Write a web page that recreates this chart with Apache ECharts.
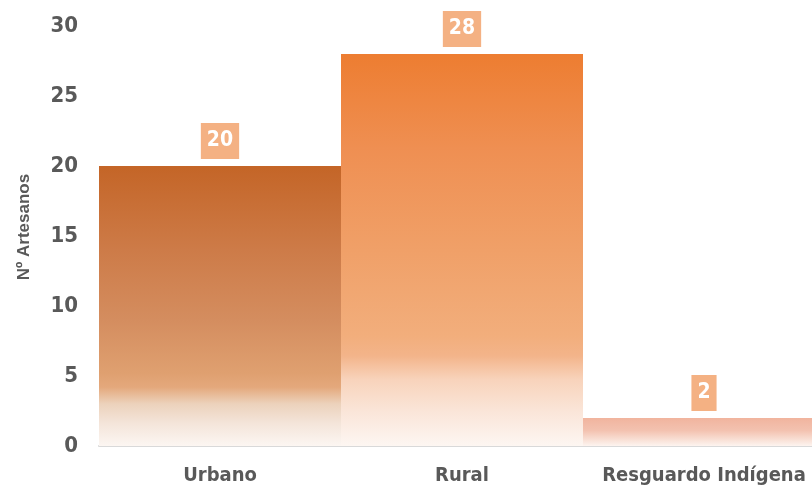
<!DOCTYPE html>
<html>
<head>
<meta charset="utf-8">
<script src="https://cdn.jsdelivr.net/npm/echarts@6/dist/echarts.min.js"></script>
<style>
html,body{margin:0;padding:0;background:#fff;}
#chart{width:812px;height:487px;}
</style>
</head>
<body>
<div id="chart"></div>
<script>
const categories = ["Urbano", "Rural", "Resguardo Indígena"];
const values = [20, 28, 2];
const yTicks = [0, 5, 10, 15, 20, 25, 30];
const axisTitle = "Nº Artesanos";

const gradientStops = [
  [[0, '#c46527'], [0.3, '#cd7b48'], [0.55, '#d48d5f'], [0.74, '#dfa070'], [0.79, '#e4a87c'], [0.85, '#ecd2bc'], [0.92, '#f4e5da'], [1, '#fcf6f2']],
  [[0, '#ed7d31'], [0.24, '#ef8f52'], [0.5, '#f0a068'], [0.72, '#f2ae7c'], [0.77, '#f3b48a'], [0.83, '#f8d3bb'], [0.91, '#fae5d8'], [1, '#fdf6f2']],
  [[0, '#f1b49e'], [0.45, '#f3c2b0'], [0.8, '#f9e2d8'], [1, '#fdf4f0']]
];

function grad(stops) {
  return new echarts.graphic.LinearGradient(0, 0, 0, 1,
    stops.map(s => ({ offset: s[0], color: s[1] })));
}

const narrow = '"Liberation Sans Narrow", "Arial Narrow", "DejaVu Sans Condensed", sans-serif';

const chart = echarts.init(document.getElementById('chart'), null, { renderer: 'canvas' });
chart.setOption({
  animation: false,
  grid: { left: 99, top: 26, width: 726, height: 420, containLabel: false, outerBoundsMode: 'none' },
  xAxis: {
    type: 'category',
    data: categories,
    axisLine: { show: true, lineStyle: { color: '#d9d9d9', width: 2 } },
    axisTick: { show: false },
    axisLabel: { interval: 0, color: '#595959', fontFamily: narrow, fontWeight: 'bold', fontSize: 20, margin: 20 }
  },
  yAxis: {
    type: 'value',
    min: yTicks[0],
    max: yTicks[yTicks.length - 1],
    interval: yTicks[1] - yTicks[0],
    name: axisTitle,
    nameLocation: 'middle',
    nameGap: 66,
    nameRotate: 90,
    nameTextStyle: { color: '#595959', fontFamily: '"Liberation Sans", Arial, sans-serif', fontWeight: 'bold', fontSize: 17, padding: [0, 0, 0, 18] },
    axisLine: { show: false },
    axisTick: { show: false },
    splitLine: { show: false },
    axisLabel: { color: '#595959', fontFamily: narrow, fontWeight: 'bold', fontSize: 22, margin: 21 }
  },
  series: [{
    type: 'bar',
    barCategoryGap: 0,
    data: values.map((v, i) => ({ value: v, itemStyle: { color: grad(gradientStops[i]) } })),
    label: {
      show: true,
      position: 'top',
      distance: 7,
      color: '#ffffff',
      fontFamily: narrow,
      fontWeight: 'bold',
      fontSize: 21,
      lineHeight: 22,
      backgroundColor: '#f4b183',
      padding: [7, 6]
    }
  }]
});
</script>
</body>
</html>
